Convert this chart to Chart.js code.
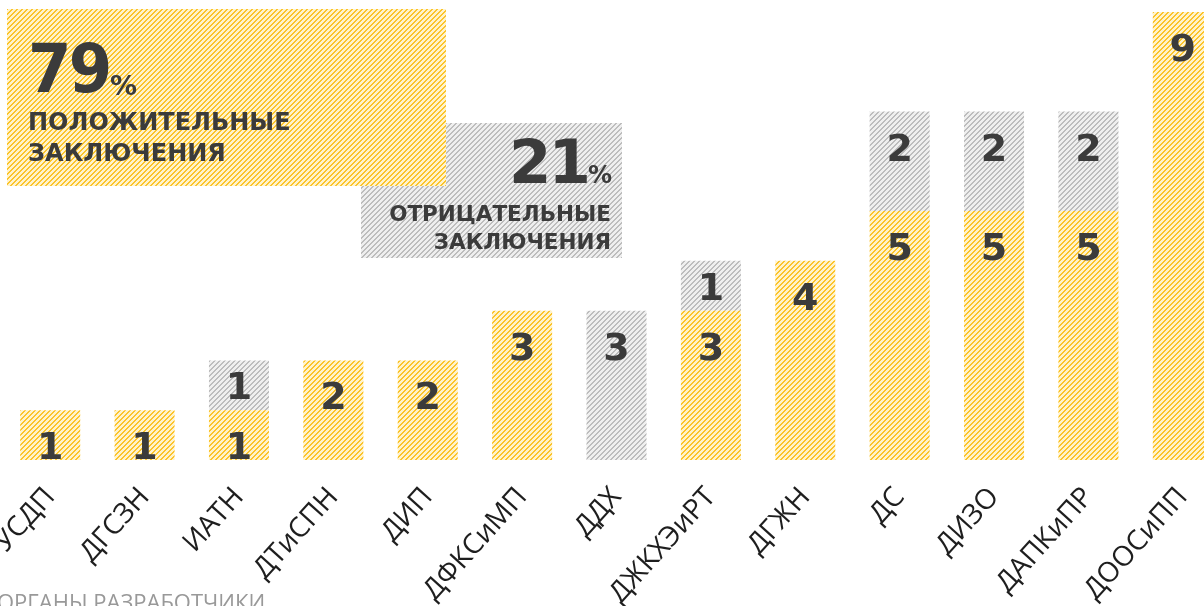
<!DOCTYPE html>
<html>
<head>
<meta charset="utf-8">
<script src="https://cdn.jsdelivr.net/npm/chart.js@4.4.0/dist/chart.umd.min.js"></script>
<style>
  html, body { margin: 0; padding: 0; background: #fff; overflow: hidden; width: 1204px; height: 606px; }
  #wrap { position: relative; width: 1232px; height: 606px; }
  #chart { position: absolute; left: 0; top: 0; }
  .box { position: absolute; font-family: "DejaVu Sans", sans-serif; font-weight: bold; color: #3b3b3b; }
  .box div { position: absolute; white-space: nowrap; }
  #pos { left: 7px; top: 9px; width: 439px; height: 177px; z-index: 3; }
  #neg { left: 361px; top: 123px; width: 261px; height: 135px; z-index: 2; }
  #axisTitle { position: absolute; left: -3px; top: 586px; font-family: "Open Sans", sans-serif; font-size: 22px; color: #999; white-space: nowrap; z-index: 4; }
</style>
</head>
<body>
<div id="wrap">
  <canvas id="chart" width="1232" height="606"></canvas>
  <div class="box" id="pos">
    <div style="left:21px; top:26px; font-size:68px; line-height:68px; letter-spacing:-3px; transform:scaleX(0.92); transform-origin:left;">79</div>
    <div style="left:103px; top:63px; font-size:27px; line-height:27px;">%</div>
    <div style="left:21px; top:98px; font-size:24px; line-height:31px;">ПОЛОЖИТЕЛЬНЫЕ<br>ЗАКЛЮЧЕНИЯ</div>
  </div>
  <div class="box" id="neg">
    <div style="right:10px; top:8px; font-size:61px; line-height:61px; letter-spacing:-3px; text-align:right;">21<span style="font-size:24px; letter-spacing:0">%</span></div>
    <div style="right:11px; top:77px; font-size:21.5px; line-height:28px; text-align:right;">ОТРИЦАТЕЛЬНЫЕ<br>ЗАКЛЮЧЕНИЯ</div>
  </div>
  <div id="axisTitle">ОРГАНЫ РАЗРАБОТЧИКИ</div>
</div>
<script>
const departments = ["УСДП", "ДГСЗН", "ИАТН", "ДТиСПН", "ДИП", "ДФКСиМП", "ДДХ", "ДЖКХЭиРТ", "ДГЖН", "ДС", "ДИЗО", "ДАПКиПР", "ДООСиПП"]
const positive = [1, 1, 1, 2, 2, 3, null, 3, 4, 5, 5, 5, 9]
const negative = [null, null, 1, null, null, null, 3, 1, null, 2, 2, 2, null]

// diagonal "/" hatch tile
function makeHatch(bg, fg){
    const n = 5
    const c = document.createElement("canvas")
    c.width = n
    c.height = n
    const g = c.getContext("2d")
    g.fillStyle = bg
    g.fillRect(0, 0, n, n)
    g.fillStyle = fg
    for (let i = 0; i < n; i++) {
        g.fillRect(i, n - 1 - i, 1, 1)
        g.fillRect((i + 1) % n, n - 1 - i, 1, 1)
    }
    return c
}

const yellowTile = makeHatch("#fff3cc", "#fbc42c")
const greyTile = makeHatch("#efefef", "#bdbdbd")
document.getElementById("pos").style.backgroundImage = "url(" + yellowTile.toDataURL() + ")"
document.getElementById("neg").style.backgroundImage = "url(" + greyTile.toDataURL() + ")"

const context = document.getElementById("chart").getContext("2d")
const yellowPattern = context.createPattern(yellowTile, "repeat")
const greyPattern = context.createPattern(greyTile, "repeat")

// numbers inside the bar segments
const valueLabels = {
    id: "valueLabels",
    afterDatasetsDraw(chart){
        const ctx = chart.ctx
        ctx.save()
        ctx.font = 'bold 38px "DejaVu Sans"'
        ctx.fillStyle = "#3b3b3b"
        ctx.textAlign = "center"
        ctx.textBaseline = "alphabetic"
        chart.data.datasets.forEach((ds, i) => {
            const meta = chart.getDatasetMeta(i)
            meta.data.forEach((bar, j) => {
                const v = ds.data[j]
                if (!v) return
                const p = bar.getProps(["x", "y", "base"], true)
                const h = p.base - p.y
                const off = i === 0 ? 21 : Math.min(21, (h - 28) / 2)
                ctx.fillText(String(v), p.x, p.y + off + 28)
            })
        })
        ctx.restore()
    }
}

new Chart(context, {
    type: "bar",
    data: {
        labels: departments,
        datasets: [
            {
                label: "Положительные",
                data: positive,
                backgroundColor: yellowPattern,
                borderWidth: 0,
                barPercentage: 0.636,
                categoryPercentage: 1,
            },
            {
                label: "Отрицательные",
                data: negative,
                backgroundColor: greyPattern,
                borderWidth: 0,
                barPercentage: 0.636,
                categoryPercentage: 1,
            }
        ]
    },
    options: {
        responsive: false,
        animation: false,
        layout: { padding: { left: 3, right: 2, top: 0, bottom: 0 } },
        plugins: {
            legend: { display: false },
            tooltip: { enabled: false },
        },
        scales: {
            x: {
                stacked: true,
                grid: { display: false },
                border: { display: false },
                ticks: {
                    autoSkip: false,
                    minRotation: 48,
                    maxRotation: 48,
                    padding: 13,
                    color: "#1e1e1e",
                    font: { family: "Open Sans", size: 28 },
                },
                afterFit(scale){
                    scale.height = 146
                    scale.paddingLeft = 0
                    scale.paddingRight = 0
                },
            },
            y: {
                stacked: true,
                display: false,
                min: 0,
                max: 9.24,
            }
        }
    },
    plugins: [valueLabels]
})
</script>
</body>
</html>
